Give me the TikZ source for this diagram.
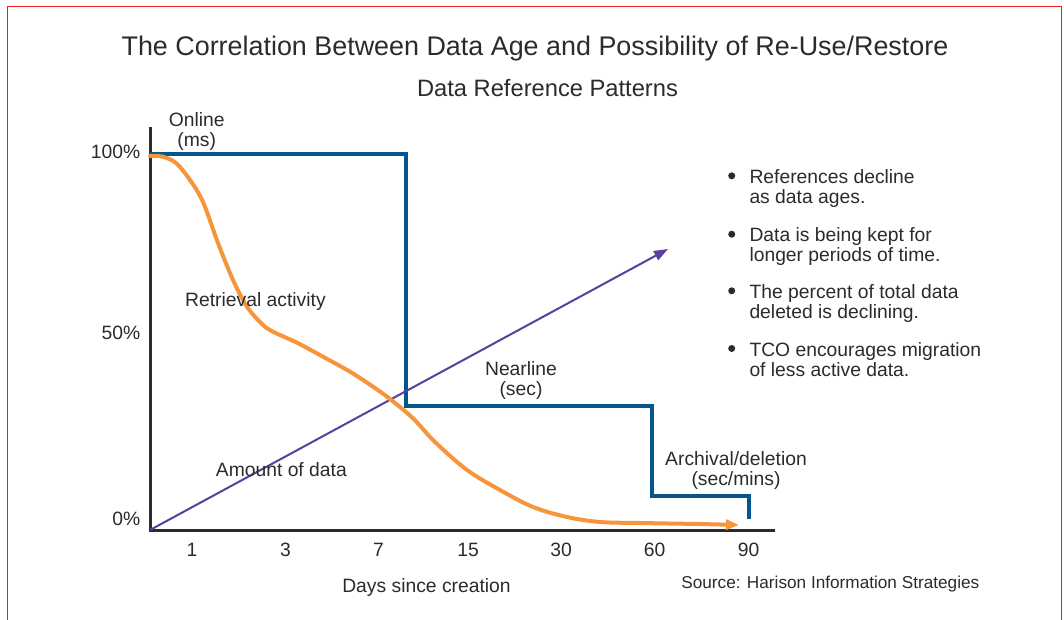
\documentclass[tikz,border=0pt]{standalone}
\usepackage{fontspec}
\setmainfont{Liberation Sans}
\usetikzlibrary{arrows.meta}
\definecolor{frame}{HTML}{ED1C24}
\definecolor{ink}{HTML}{2B2B2B}
\definecolor{tier}{HTML}{05568C}
\definecolor{retr}{HTML}{F7953B}
\definecolor{amount}{HTML}{5A3F9E}
\newcommand\fsz[1]{\fontsize{#1}{20}\selectfont}
\newcommand\twol[3]{\begin{tabular}[t]{@{}#1@{}}#2\\#3\end{tabular}}
\begin{document}
\begin{tikzpicture}[x=1pt,y=-1pt,
  txt/.style={inner sep=0pt,text=ink,font=\fsz{19.3}},
  lbl/.style={txt,anchor=base},
  dotmark/.style={circle,fill=ink,inner sep=0pt,minimum size=7pt},
  axisline/.style={draw=ink,line width=3pt},
  tierline/.style={draw=tier,line width=4pt},
  retrline/.style={draw=retr,line width=4pt,line cap=round,-{Triangle[length=13pt,width=10pt]}},
  amountline/.style={draw=amount,line width=2pt,-{Triangle[length=14pt,width=10pt]}}]
\useasboundingbox (0,0) rectangle (1064,620);
% frame
\draw[frame,line width=1.4pt] (7.3,621) -- (7.3,6.7) -- (1061.7,6.7) -- (1061.7,621);
% titles
\node[lbl,font=\fsz{26.9}] (title) at (535,55.5) {The Correlation Between Data Age and Possibility of Re-Use/Restore};
\node[lbl,font=\fsz{23.7}] (subtitle) at (547.5,97) {Data Reference Patterns};
% axes
\coordinate (top) at (150,127);
\coordinate (origin) at (150,530);
\coordinate (xend) at (775,530);
\draw[axisline] (top) -- (origin |- 0,531.5);
\draw[axisline] (148.5,530) -- (xend);
% y labels
\node[txt,anchor=base east] (p100) at (140.5,158.5) {100\%};
\node[txt,anchor=base east] (p50) at (140.5,339.5) {50\%};
\node[txt,anchor=base east] (p0) at (140.5,525) {0\%};
% x labels
\node[lbl] (d1) at (192,556.5) {1};
\node[lbl] (d3) at (285.5,556.5) {3};
\node[lbl] (d7) at (378.5,556.5) {7};
\node[lbl] (d15) at (468,556.5) {15};
\node[lbl] (d30) at (561,556.5) {30};
\node[lbl] (d60) at (654.5,556.5) {60};
\node[lbl] (d90) at (748.5,556.5) {90};
\node[lbl] (xlabel) at (426.5,592) {Days since creation};
\node[txt,anchor=base east,font=\fsz{17.2}] (source) at (979.5,588.3) {Source: Harison Information Strategies};
% storage tiers
\coordinate (t0) at (150,154);
\coordinate (t1) at (405.5,154);
\coordinate (t2) at (405.5,406);
\coordinate (t3) at (652,406);
\coordinate (t4) at (652,496);
\coordinate (t5) at (749,496);
\coordinate (t6) at (749,518.5);
\draw[tierline] (t0) -- (t1) -- (t2) -- (t3) -- (t4) -- (t5) -- (t6);
% amount of data
\coordinate (a1) at (668,249);
\draw[amountline] (origin) -- (a1);
% retrieval activity
\coordinate (r1) at (739,525);
\draw[retrline] plot[smooth,tension=0.55] coordinates {(150,156) (162,156.5) (176,163) (190,180) (203,202) (218,243) (233,280) (247,306.7) (262,324) (273,331.7) (297,342.7) (323,356.7) (350,371.7) (373,386.7) (390,399) (413,418.3) (435,442) (467,470) (500,490) (533,507) (567,517) (600,522) (640,523) (700,524)} -- (r1);
% curve labels
\node[lbl] (online) at (196.7,126.7) {\twol{c}{Online}{(ms)}};
\node[lbl] (nearline) at (521,375) {\twol{c}{Nearline}{(sec)}};
\node[lbl] (archival) at (736,465) {\twol{c}{Archival/deletion}{(sec/mins)}};
\node[txt,anchor=base west] (retrieval) at (185,306.7) {Retrieval activity};
\node[txt,anchor=base west] (amountlbl) at (215.7,476) {Amount of data};
% bullets
\foreach \y/\a/\b [count=\i] in {183.3/References decline/as data ages.,
  241.7/Data is being kept for/longer periods of time.,
  298.3/The percent of total data/deleted is declining.,
  356/TCO encourages migration/of less active data.}{
  \node[dotmark] (dot\i) at (731.7,\y-7.5) {};
  \node[txt,anchor=base west] (note\i) at (749.3,\y) {\twol{l}{\a}{\b}};
}
\end{tikzpicture}
\end{document}
